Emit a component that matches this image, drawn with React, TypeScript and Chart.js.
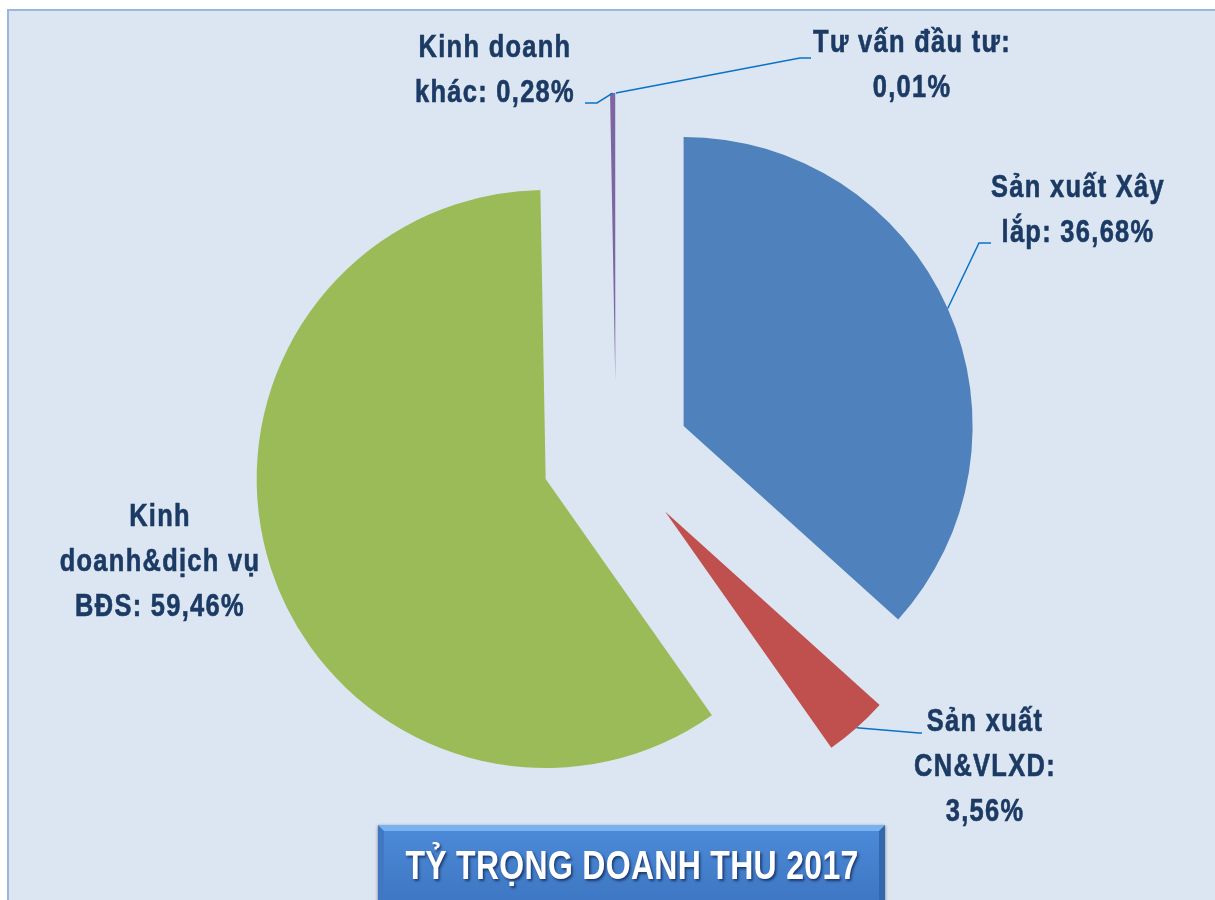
import React, { useEffect, useRef } from "react";
import { Chart, registerables } from "chart.js";

Chart.register(...registerables);

// ---- data ----
const categories = [
  "Sản xuất Xây lắp",
  "Sản xuất CN&VLXD",
  "Kinh doanh&dịch vụ BĐS",
  "Kinh doanh khác",
  "Tư vấn đầu tư",
];
const shares = [36.68, 3.56, 59.46, 0.28, 0.01];
const labelLines = [
  ["Sản xuất Xây", "lắp: 36,68%"],
  ["Sản xuất", "CN&VLXD:", "3,56%"],
  ["Kinh", "doanh&dịch vụ", "BĐS: 59,46%"],
  ["Kinh doanh", "khác: 0,28%"],
  ["Tư vấn đầu tư:", "0,01%"],
];
const sliceColors = ["#4f81bd", "#c0504d", "#9bbb59", "#8064a2", "#4bacc6"];
const chartTitle = "TỶ TRỌNG DOANH THU 2017";

// ---- layout (positions of annotation labels) ----
const labelLayout = [
  { cx: 1078, cy: 188, elbow: [979, 243], end: [991, 243] },
  { cx: 985, cy: 722, elbow: [919, 733], end: [922, 733] },
  { cx: 160, cy: 517, elbow: null, end: null },
  { cx: 495, cy: 48, elbow: [597, 103], end: [585, 103] },
  { cx: 912, cy: 43, elbow: [800, 58], end: [811, 58] },
];

const FONT_FAMILY = "'Liberation Sans', Arial, 'DejaVu Sans', sans-serif";
const LABEL_FONT = "bold 31px " + FONT_FAMILY;
const NARROW = 0.82;
const LABEL_COLOR = "#1b3a64";
const LINE_COLOR = "#0a72c6";
const EXPLODE = 74;
const RADIUS = 289;

const framePlugin = {
  id: "frame",
  beforeDraw(chart: any) {
    const ctx = chart.ctx;
    ctx.save();
    ctx.fillStyle = "#ffffff";
    ctx.fillRect(0, 0, chart.width, chart.height);
    ctx.fillStyle = "#dce6f2";
    ctx.fillRect(8, 10, chart.width - 8, chart.height - 10);
    ctx.strokeStyle = "#9bb7de";
    ctx.lineWidth = 2;
    ctx.beginPath();
    ctx.moveTo(8, chart.height);
    ctx.lineTo(8, 10);
    ctx.lineTo(chart.width, 10);
    ctx.stroke();
    ctx.restore();
  },
};

// explode every slice outward along its mid-angle, keeping the slice shape intact
const explodePlugin = {
  id: "explode",
  beforeDatasetDraw(chart: any, args: any) {
    const ctx = chart.ctx;
    args.meta.data.forEach((arc: any) => {
      const p = arc.getProps(["startAngle", "endAngle"], true);
      const mid = (p.startAngle + p.endAngle) / 2;
      ctx.save();
      ctx.translate(Math.cos(mid) * EXPLODE, Math.sin(mid) * EXPLODE);
      arc.draw(ctx);
      ctx.restore();
    });
    return false;
  },
};

const labelPlugin = {
  id: "sliceLabels",
  afterDatasetsDraw(chart: any) {
    const ctx = chart.ctx;
    const meta = chart.getDatasetMeta(0);
    ctx.save();
    meta.data.forEach((arc: any, i: number) => {
      const lay = labelLayout[i];
      const p = arc.getProps(["x", "y", "startAngle", "endAngle", "outerRadius"], true);
      const mid = (p.startAngle + p.endAngle) / 2;
      if (lay.elbow && lay.end) {
        const sx = p.x + Math.cos(mid) * (EXPLODE + p.outerRadius);
        const sy = p.y + Math.sin(mid) * (EXPLODE + p.outerRadius);
        ctx.strokeStyle = LINE_COLOR;
        ctx.lineWidth = 1.5;
        ctx.beginPath();
        ctx.moveTo(sx, sy);
        ctx.lineTo(lay.elbow[0], lay.elbow[1]);
        ctx.lineTo(lay.end[0], lay.end[1]);
        ctx.stroke();
      }
      ctx.fillStyle = LABEL_COLOR;
      ctx.strokeStyle = LABEL_COLOR;
      ctx.lineWidth = 0.6;
      ctx.font = LABEL_FONT;
      try {
        (ctx as any).letterSpacing = "1.6px";
      } catch (e) {}
      ctx.textAlign = "center";
      ctx.textBaseline = "middle";
      labelLines[i].forEach((line, k) => {
        ctx.save();
        ctx.translate(lay.cx, lay.cy + k * 45);
        ctx.scale(NARROW, 1);
        ctx.fillText(line, 0, 0);
        ctx.strokeText(line, 0, 0);
        ctx.restore();
      });
    });
    ctx.restore();
  },
};

export default function App() {
  const canvasRef = useRef<HTMLCanvasElement | null>(null);

  useEffect(() => {
    if (!canvasRef.current) return;
    const chart = new Chart(canvasRef.current, {
      type: "pie",
      data: {
        labels: categories,
        datasets: [
          {
            data: shares,
            backgroundColor: sliceColors,
            borderWidth: 0,
          },
        ],
      },
      options: {
        responsive: false,
        animation: false,
        radius: RADIUS,
        layout: { padding: { left: 17, right: 0, top: 12, bottom: 0 } },
        plugins: {
          legend: { display: false },
          tooltip: { enabled: false },
          title: { display: false },
        },
      } as any,
      plugins: [framePlugin, explodePlugin, labelPlugin],
    });
    return () => chart.destroy();
  }, []);

  return (
    <div
      style={{
        position: "fixed",
        left: 0,
        top: 0,
        width: 1215,
        height: 900,
        overflow: "hidden",
        background: "#ffffff",
      }}
    >
      <canvas ref={canvasRef} width={1215} height={900} style={{ display: "block", width: 1215, height: 900 }} />
      <div
        style={{
          position: "absolute",
          left: 378,
          top: 825,
          width: 507,
          height: 95,
          boxSizing: "border-box",
          borderTop: "6px solid #78b2ef",
          borderLeft: "6px solid #3f77c2",
          borderRight: "6px solid #3368ad",
          borderBottom: "6px solid #2d5c9c",
          background: "linear-gradient(#4b89d6, #3c74c1)",
          boxShadow: "0 1px 3px rgba(0,0,0,0.5)",
          color: "#ffffff",
          fontFamily: FONT_FAMILY,
          fontWeight: "bold",
          fontSize: 41,
          lineHeight: "68px",
          whiteSpace: "nowrap",
        }}
      >
        <span
          style={{
            position: "absolute",
            left: "50%",
            top: 0,
            transform: "translateX(-50%) scaleX(0.78)",
            transformOrigin: "center",
            letterSpacing: "0.4px",
            textShadow: "2px 2px 3px rgba(0,10,50,0.6)",
          }}
        >
          {chartTitle}
        </span>
      </div>
    </div>
  );
}
